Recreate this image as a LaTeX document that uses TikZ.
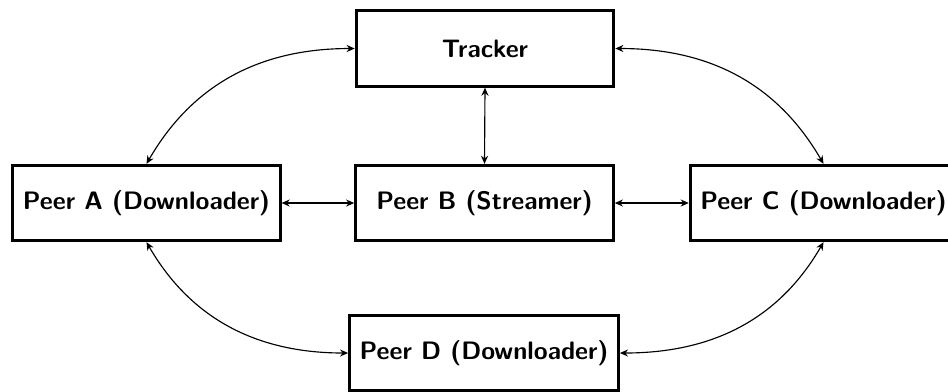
\documentclass[tikz,border=0pt]{standalone}
\usetikzlibrary{arrows.meta}
\begin{document}
\begin{tikzpicture}[x=0.396pt,y=-0.396pt,
  peer/.style={draw, line width=1.2pt, fill=white, font=\sffamily\bfseries,
    minimum width=102pt, minimum height=29.8pt, inner xsep=4pt, anchor=center},
  link/.style={{Stealth[length=3.2pt,width=2.8pt]}-{Stealth[length=3.2pt,width=2.8pt]}, line width=0.45pt}]
  \useasboundingbox (0,0) rectangle (948,391);
  \clip (0,0) rectangle (948,391);

  % boxes
  \node[peer] (tracker) at (485,48.5) {Tracker};
  \node[peer] (peerA) at (146.5,203) {Peer A (Downloader)};
  \node[peer] (peerB) at (484.5,203) {Peer B (Streamer)};
  \node[peer] (peerC) at (823.5,203) {Peer C (Downloader)};
  \node[peer] (peerD) at (484,353) {Peer D (Downloader)};

  % straight links
  \draw[link] (peerA.east) -- (peerB.west);
  \draw[link] (peerB.east) -- (peerC.west);
  \draw[link] (tracker.south) -- (peerB.north);

  % curved links
  \draw[link] (tracker.west) to[out=180,in=60] (peerA.north);
  \draw[link] (tracker.east) to[out=0,in=120] (peerC.north);
  \draw[link] (peerA.south) to[out=-60,in=180] (peerD.west);
  \draw[link] (peerC.south) to[out=-120,in=0] (peerD.east);
\end{tikzpicture}
\end{document}
